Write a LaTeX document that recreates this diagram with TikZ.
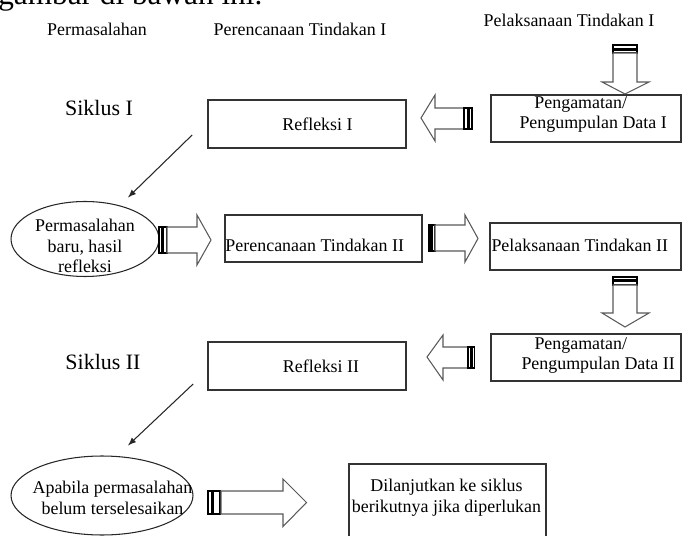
\documentclass[tikz,border=0pt]{standalone}
\usepackage{fontspec}
\setmainfont{Liberation Serif}
\usetikzlibrary{shapes.geometric,calc}

\begin{document}
\begin{tikzpicture}[
    x=0.02cm, y=-0.02cm,
    txt/.style={font=\fontsize{10.2}{11.8}\selectfont, inner sep=0pt},
    big/.style={font=\fontsize{12.5}{15}\selectfont, inner sep=0pt},
    box/.style={rectangle, draw=black!80, line width=1pt, inner sep=0pt},
    oval/.style={ellipse, draw=black!85, line width=0.6pt, inner sep=0pt},
    blk/.style={draw=black!65, line width=0.6pt, fill=white},
    stripe/.style={draw=black, line width=0.8pt, fill=white},
    arrow/.style={->, >=latex, line width=0.6pt, black!85}
]
\useasboundingbox (0,0) rectangle (682,536);
\clip (0,0) rectangle (682,536);

\node[anchor=base west, font=\fontsize{17.8}{21}\selectfont, inner sep=0pt] (intro) at (-2,5) {gambar di bawah ini.};

\node[txt] (h1) at (97,29) {Permasalahan};
\node[txt] (h2) at (300,29) {Perencanaan Tindakan I};
\node[txt] (h3) at (569,20.5) {Pelaksanaan Tindakan I};

\node[big] (s1) at (99,108) {Siklus I};
\node[big] (s2) at (103,362) {Siklus II};

\node[box, minimum width=3.8cm, minimum height=0.94cm] (PD1) at (586,118.5) {};
\node[txt, align=left, anchor=west] (PD1t) at ($(PD1.west)+(29,-4)$) {\hspace*{8.5pt}Pengamatan/\\Pengumpulan Data I};
\node[box, minimum width=3.96cm, minimum height=0.96cm] (R1) at (307,124) {};
\node[txt] (R1t) at ($(R1)+(10.5,0.5)$) {Refleksi I};

\node[oval, minimum width=2.96cm, minimum height=1.5cm] (M2) at (85,239) {};
\node[txt, align=center] (M2t) at (85,246) {Permasalahan\\baru, hasil\\refleksi};
\node[box, minimum width=3.94cm, minimum height=0.94cm] (PT2) at (323.5,238.5) {};
\node[txt, anchor=west] (PT2t) at ($(PT2.west)+(1,6.5)$) {Perencanaan Tindakan II};
\node[box, minimum width=3.82cm, minimum height=0.94cm] (LT2) at (585.5,246.5) {};
\node[txt, anchor=west] (LT2t) at ($(LT2.west)+(2,-1.5)$) {Pelaksanaan Tindakan II};

\node[box, minimum width=3.8cm, minimum height=0.94cm] (PD2) at (586,357.5) {};
\node[txt, align=left, anchor=west] (PD2t) at ($(PD2.west)+(31,-2)$) {\hspace*{7.4pt}Pengamatan/\\Pengumpulan Data II};
\node[box, minimum width=3.96cm, minimum height=0.96cm] (R2) at (307,366) {};
\node[txt] (R2t) at ($(R2)+(14,0)$) {Refleksi II};

\node[oval, minimum width=3.64cm, minimum height=1.58cm] (M3) at (102,495.5) {};
\node[txt, align=center] (M3t) at (112.5,498) {Apabila permasalahan\\belum terselesaikan};
\node[box, minimum width=3.94cm, minimum height=2cm, anchor=north] (L) at (447.5,463) {};
\node[txt, align=center] (Lt) at (446.5,497.5) {Dilanjutkan ke siklus\\berikutnya jika diperlukan};

\draw[arrow] ($(R1.west)+(-15,11)$) -- ($(M2.north)+(43,-3.5)$);
\draw[arrow] ($(R2.west)+(-14,18)$) -- ($(M3.north)+(26,-10)$);

\draw[stripe] (613,45) rectangle (637,48.5);
\draw[stripe] (613,50) rectangle (637,53);
\draw[blk] (613,53) -- (613,82) -- (602,82) -- (625,94) -- (649,82) -- (637,82) -- (637,53) -- cycle;

\draw[blk] (464,108) -- (435,108) -- (435,95) -- (421,118) -- (435,141) -- (435,129) -- (464,129) -- cycle;
\draw[stripe] (464,108) rectangle (467.5,129);
\draw[stripe] (469,108) rectangle (472,129);

\draw[stripe] (159,227) rectangle (162,253);
\draw[stripe] (163.5,227) rectangle (167,253);
\draw[blk] (167,227) -- (197,227) -- (197,215) -- (211,240) -- (197,265) -- (197,253) -- (167,253) -- cycle;

\draw[stripe] (429,225) rectangle (431,251);
\draw[stripe] (432.5,225) rectangle (435,251);
\draw[blk] (435,225) -- (465,225) -- (465,215) -- (478,238.5) -- (465,262) -- (465,251) -- (435,251) -- cycle;

\draw[stripe] (613,277) rectangle (637,280);
\draw[stripe] (613,281.5) rectangle (637,285);
\draw[blk] (613,285) -- (613,313) -- (602,313) -- (625,327) -- (649,313) -- (637,313) -- (637,285) -- cycle;

\draw[blk] (468,347) -- (443,347) -- (443,335) -- (427,357) -- (443,380) -- (443,368) -- (468,368) -- cycle;
\draw[stripe] (468,347) rectangle (471,368);
\draw[stripe] (472.5,347) rectangle (474.5,368);

\draw[stripe] (208,491) rectangle (212,514);
\draw[stripe] (213.5,491) rectangle (220,514);
\draw[blk] (221,491) -- (283,491) -- (283,479) -- (306.5,502.5) -- (283,526.5) -- (283,514) -- (221,514) -- cycle;
\end{tikzpicture}
\end{document}
